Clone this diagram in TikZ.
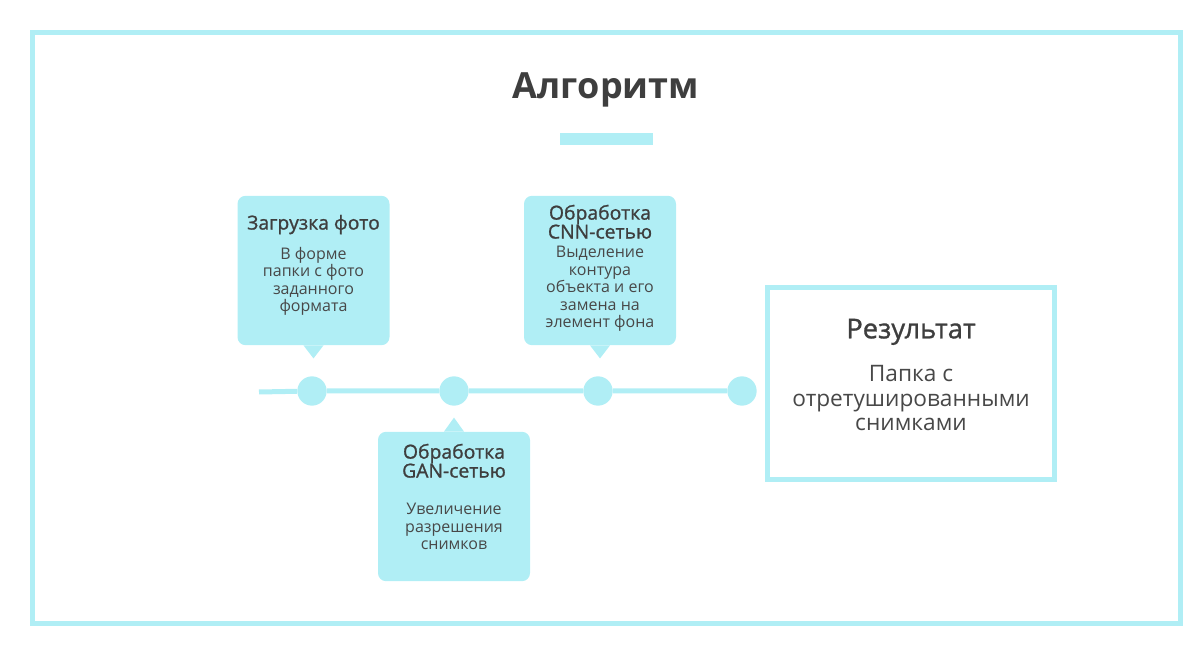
\documentclass[tikz,border=0pt]{standalone}
\usepackage{fontspec}
\setmainfont{Open Sans}
\newfontfamily\mediumfont{Open Sans}[FakeBold=1.1]
\usetikzlibrary{
  positioning,
  calc
}
\definecolor{stepcolor}{RGB}{176, 238, 245}
\definecolor{headcolor}{RGB}{62, 62, 62}
\definecolor{bodycolor}{RGB}{72, 72, 72}
\tikzset{
stagebox/.style={
  fill=stepcolor,
  rounded corners=6pt,
  inner sep=0pt,
  minimum width=114pt,
  minimum height=112pt
},
stagetitle/.style={
  font=\mediumfont\fontsize{14.5}{14.2}\selectfont,
  text=headcolor,
  align=center,
  inner sep=0pt
},
stagetext/.style={
  font=\fontsize{12}{13.1}\selectfont,
  text=bodycolor,
  align=center,
  inner sep=0pt
},
pointer/.style={
  fill=stepcolor
},
dot/.style={
  circle,
  fill=stepcolor,
  minimum size=22pt,
  inner sep=0pt
},
timeline/.style={
  draw=stepcolor,
  line width=3.75pt
}
}

\begin{document}
\begin{tikzpicture}[x=0.75pt, y=-0.75pt]
      \useasboundingbox (0,0) rectangle (1203,648);

      % Frame
      \draw[draw=stepcolor, line width=3.75pt] (32.5,33) rectangle (1180,623);

      % Title
      \node[font=\bfseries\fontsize{27}{32}\selectfont, text=headcolor] (title) at (606,90) {Алгоритм};
      \fill[stepcolor] (560,133) rectangle (653,145);

      % Timeline
      \coordinate (start) at (259,392);
      \node[dot] (d1) at (312,391) {};
      \node[dot] (d2) at (454,391) {};
      \node[dot] (d3) at (598,391) {};
      \node[dot] (d4) at (742,391) {};
      \draw[timeline] (start) -- (d1) -- (d2) -- (d3) -- (d4);

      % Upload
      \node[stagebox] (load) at (313.5,270.5) {};
      \fill[pointer] ($(load.south)+(-10,0)$) -- ($(load.south)+(0,13)$) -- ($(load.south)+(10,0)$) -- cycle;
      \node[stagetitle, anchor=base] (loadtitle) at ($(load.north)+(0,34)$) {Загрузка фото};
      \node[stagetext, anchor=base] (loadtext) at ($(load.north)+(0,116)$) {В форме\\папки с фото\\заданного\\формата};

      % GAN
      \node[stagebox] (gan) at (454,506.5) {};
      \fill[pointer] ($(gan.north)+(-10,0)$) -- ($(gan.north)+(0,-14)$) -- ($(gan.north)+(10,0)$) -- cycle;
      \node[stagetitle, anchor=base] (gantitle) at ($(gan.north)+(0,46)$) {Обработка\\GAN-сетью};
      \node[stagetext, anchor=base] (gantext) at ($(gan.north)+(0,118)$) {Увеличение\\разрешения\\снимков};

      % CNN
      \node[stagebox] (cnn) at (600,270.5) {};
      \fill[pointer] ($(cnn.south)+(-10,0)$) -- ($(cnn.south)+(0,13)$) -- ($(cnn.south)+(10,0)$) -- cycle;
      \node[stagetitle, anchor=base] (cnntitle) at ($(cnn.north)+(0,43)$) {Обработка\\CNN-сетью};
      \node[stagetext, anchor=base] (cnntext) at ($(cnn.north)+(0,132)$) {Выделение\\контура\\объекта и его\\замена на\\элемент фона};

      % Result
      \node[draw=stepcolor, line width=3.75pt, fill=white, minimum width=215pt, minimum height=143.5pt] (result) at (911,383.5) {};
      \node[font=\mediumfont\fontsize{20.5}{22}\selectfont, text=headcolor, anchor=base] (resulttitle) at ($(result.north)+(0,53)$) {Результат};
      \node[font=\fontsize{17}{18.2}\selectfont, text=bodycolor, align=center, inner sep=0pt, anchor=base] (resulttext) at ($(result.north)+(0,145)$) {Папка с\\отретушированными\\снимками};
\end{tikzpicture}
\end{document}
